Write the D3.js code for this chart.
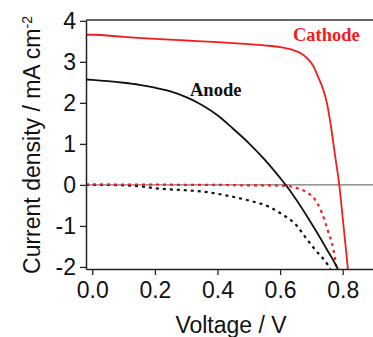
<!DOCTYPE html>
<html>
<head>
    <meta charset="utf-8">
    <script src="https://d3js.org/d3.v7.min.js"></script>
    <style>
        html, body { margin: 0; padding: 0; background: white; }
        text { font-family: "Liberation Sans", Arial, sans-serif; }
    </style>
</head>
<body>
<div id="chart"></div>
<script>
    // light curves (solid) and dark curves (dashed), [voltage, current density]
    const cathodeLight = [[-0.02, 3.66], [0.0, 3.66], [0.1, 3.61], [0.2, 3.56], [0.3, 3.52], [0.4, 3.48],
        [0.5, 3.43], [0.55, 3.40], [0.6, 3.36], [0.64, 3.29], [0.67, 3.19], [0.69, 3.06], [0.705, 2.91],
        [0.72, 2.66], [0.737, 2.34], [0.75, 1.98], [0.762, 1.45], [0.775, 0.75], [0.789, 0.0], [0.80, -0.8],
        [0.816, -2.0], [0.82, -2.3]];
    const anodeLight = [[-0.02, 2.57], [0.0, 2.56], [0.05, 2.53], [0.1, 2.49], [0.15, 2.44], [0.2, 2.37],
        [0.25, 2.28], [0.3, 2.14], [0.35, 1.95], [0.4, 1.70], [0.45, 1.37], [0.5, 1.02], [0.55, 0.62],
        [0.6, 0.17], [0.62, -0.02], [0.664, -0.5], [0.717, -1.15], [0.75, -1.58], [0.781, -2.0], [0.79, -2.15]];
    const cathodeDark = [[-0.02, 0.01], [0.1, 0.01], [0.2, 0.01], [0.3, 0.0], [0.4, 0.0], [0.5, -0.01],
        [0.55, -0.01], [0.61, -0.02], [0.65, -0.07], [0.685, -0.18], [0.71, -0.34], [0.733, -0.67],
        [0.754, -1.15], [0.77, -1.56], [0.78, -2.0]];
    const anodeDark = [[-0.02, 0.0], [0.05, 0.0], [0.1, -0.01], [0.15, -0.03], [0.2, -0.08], [0.25, -0.11],
        [0.3, -0.13], [0.35, -0.16], [0.43, -0.26], [0.5, -0.38], [0.567, -0.54], [0.605, -0.71],
        [0.653, -0.99], [0.685, -1.32], [0.71, -1.56], [0.754, -1.97], [0.76, -2.05]];

    const xTicks = [0, 0.2, 0.4, 0.6, 0.8];
    const yTicks = [-2, -1, 0, 1, 2, 3, 4];

    const width = 373, height = 337;
    const svg = d3.select("#chart").append("svg")
        .attr("width", width)
        .attr("height", height);

    const x = d3.scaleLinear().domain([-0.02, 0.9]).range([86, 374]);
    const y = d3.scaleLinear().domain([-2.05, 4.02]).range([269, 20]);

    svg.append("defs").append("clipPath").attr("id", "clip")
        .append("rect")
        .attr("x", x.range()[0]).attr("y", y.range()[1])
        .attr("width", x.range()[1] - x.range()[0])
        .attr("height", y.range()[0] - y.range()[1]);

    // zero line
    svg.append("line")
        .attr("x1", x(-0.02)).attr("x2", x(0.9))
        .attr("y1", y(0)).attr("y2", y(0))
        .attr("stroke", "#555").attr("stroke-width", 1);

    // top frame line
    svg.append("line")
        .attr("x1", x(-0.02)).attr("x2", x(0.9))
        .attr("y1", y(4.02)).attr("y2", y(4.02))
        .attr("stroke", "#333").attr("stroke-width", 1.5);

    const line = d3.line().x(d => x(d[0])).y(d => y(d[1])).curve(d3.curveMonotoneX);

    const series = [
        { data: anodeDark, color: "#111", dash: "3,4" },
        { data: cathodeDark, color: "#f21d1d", dash: "3,4" },
        { data: anodeLight, color: "#111", dash: null },
        { data: cathodeLight, color: "#f21d1d", dash: null }
    ];

    svg.append("g").attr("clip-path", "url(#clip)")
        .selectAll("path")
        .data(series)
        .enter()
        .append("path")
        .attr("d", d => line(d.data))
        .attr("fill", "none")
        .attr("stroke", d => d.color)
        .attr("stroke-width", d => d.dash ? 2.2 : 1.8)
        .attr("stroke-dasharray", d => d.dash);

    // axes
    const xAxis = svg.append("g")
        .attr("transform", `translate(0,${y(-2.05)})`)
        .call(d3.axisBottom(x).tickValues(xTicks).tickFormat(d3.format(".1f"))
            .tickSize(6).tickSizeOuter(0).tickPadding(7));
    const yAxis = svg.append("g")
        .attr("transform", `translate(${x(-0.02)},0)`)
        .call(d3.axisLeft(y).tickValues(yTicks).tickFormat(d => d < 0 ? "-" + Math.abs(d) : d)
            .tickSize(6).tickSizeOuter(0).tickPadding(4));

    [xAxis, yAxis].forEach(a => {
        a.select(".domain").attr("stroke", "#222").attr("stroke-width", 1.5);
        a.selectAll(".tick line").attr("stroke", "#222").attr("stroke-width", 1.3);
        a.selectAll(".tick text")
            .attr("fill", "#111")
            .style("font-family", "'Liberation Sans', Arial, sans-serif")
            .style("font-size", "23px");
    });

    // axis titles
    svg.append("text")
        .attr("x", 231).attr("y", 333)
        .attr("text-anchor", "middle")
        .attr("fill", "#111")
        .style("font-size", "23px")
        .text("Voltage / V");

    const yTitle = svg.append("text")
        .attr("transform", "translate(40,145) rotate(-90)")
        .attr("text-anchor", "middle")
        .attr("fill", "#111")
        .style("font-size", "23px");
    yTitle.append("tspan").text("Current density / mA cm");
    yTitle.append("tspan").attr("dy", "-0.6em").style("font-size", "14px").text("-2");

    // series labels
    svg.append("text")
        .attr("x", 293).attr("y", 41)
        .attr("fill", "#f21d1d")
        .style("font-family", "'Liberation Serif', 'Times New Roman', serif")
        .style("font-weight", "bold")
        .style("font-size", "18.5px")
        .text("Cathode");
    svg.append("text")
        .attr("x", 190).attr("y", 96)
        .attr("fill", "#111")
        .style("font-family", "'Liberation Serif', 'Times New Roman', serif")
        .style("font-weight", "bold")
        .style("font-size", "18.5px")
        .text("Anode");
</script>
</body>
</html>
